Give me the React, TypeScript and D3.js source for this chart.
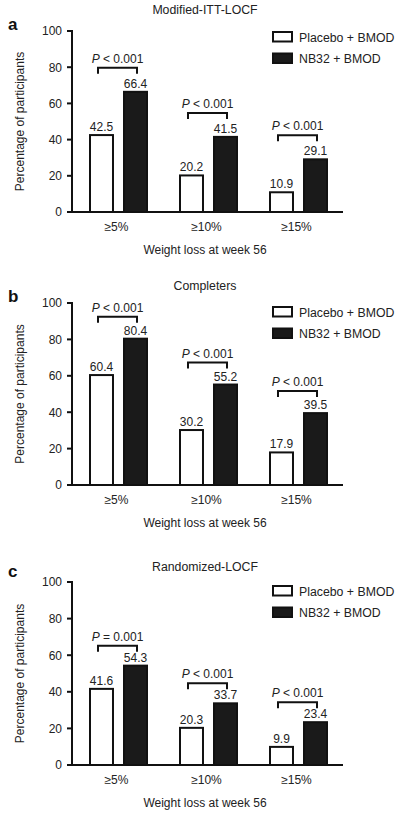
import React from "react";
import * as d3 from "d3";

const categories = ["≥5%", "≥10%", "≥15%"];
const seriesNames = ["Placebo + BMOD", "NB32 + BMOD"];
const panelTitles = ["Modified-ITT-LOCF", "Completers", "Randomized-LOCF"];
const panelLetters = ["a", "b", "c"];
const placeboValues = [
  [42.5, 20.2, 10.9],
  [60.4, 30.2, 17.9],
  [41.6, 20.3, 9.9],
];
const nb32Values = [
  [66.4, 41.5, 29.1],
  [80.4, 55.2, 39.5],
  [54.3, 33.7, 23.4],
];
const pOperators = [
  ["<", "<", "<"],
  ["<", "<", "<"],
  ["=", "<", "<"],
];
const pValue = "0.001";
const yTicks = [0, 20, 40, 60, 80, 100];
const xTitle = "Weight loss at week 56";
const yTitle = "Percentage of participants";

// layout
const panelLayout = [
  { y0: 212, y100: 31, title: 14, letter: 30, legend: 32, bracketOff: 24 },
  { y0: 485, y100: 303, title: 290, letter: 302, legend: 307, bracketOff: 22 },
  { y0: 765, y100: 582, title: 571, letter: 577, legend: 586, bracketOff: 20 },
];
const FONT = "'Liberation Sans', Arial, Helvetica, sans-serif";
const AXIS_X = 72;

function Panel({ idx }: { idx: number }) {
  const L = panelLayout[idx];
  const y = d3.scaleLinear().domain([0, 100]).range([L.y0, L.y100]);
  const x0 = d3
    .scaleBand<string>()
    .domain(categories)
    .range([73.5, 343.5])
    .paddingInner(33 / 90)
    .paddingOuter(16.5 / 90);
  const x1 = d3
    .scaleBand<string>()
    .domain(seriesNames)
    .range([0, x0.bandwidth()])
    .paddingInner(0.324)
    .paddingOuter(0);
  const bw = x1.bandwidth();
  const data = [placeboValues[idx], nb32Values[idx]];
  const yMid = (L.y0 + L.y100) / 2;

  return (
    <g fontFamily={FONT}>
      <text x={205} y={L.title} fontSize={12.3} textAnchor="middle" fill="#222">
        {panelTitles[idx]}
      </text>
      <text x={8} y={L.letter} fontSize={17} fontWeight="bold" fill="#111">
        {panelLetters[idx]}
      </text>
      {/* y axis */}
      <line x1={AXIS_X} x2={AXIS_X} y1={L.y0} y2={L.y100 - 1} stroke="#111" strokeWidth={2} />
      {yTicks.map((t) => (
        <g key={t}>
          <line x1={AXIS_X - 5} x2={AXIS_X} y1={y(t)} y2={y(t)} stroke="#111" strokeWidth={2} />
          <text x={AXIS_X - 10} y={y(t) + 4.3} fontSize={12} textAnchor="end" fill="#222">
            {t}
          </text>
        </g>
      ))}
      <text
        transform={`translate(24,${yMid}) rotate(-90)`}
        fontSize={12}
        textAnchor="middle"
        fill="#222"
      >
        {yTitle}
      </text>
      {/* bars */}
      {categories.map((c, ci) => (
        <g key={c}>
          {seriesNames.map((s, si) => {
            const v = data[si][ci];
            const bx = (x0(c) as number) + (x1(s) as number);
            return (
              <g key={s}>
                <rect
                  x={bx}
                  y={y(v)}
                  width={bw}
                  height={L.y0 - y(v)}
                  fill={si === 0 ? "#fff" : "#1a1a1a"}
                  stroke="#111"
                  strokeWidth={2}
                />
                <text x={bx + bw / 2} y={y(v) - 4} fontSize={12} textAnchor="middle" fill="#222">
                  {v.toFixed(1)}
                </text>
              </g>
            );
          })}
          {(() => {
            const pl = (x0(c) as number) + (x1(seriesNames[0]) as number) + bw / 2 - 3.5;
            const pr = (x0(c) as number) + (x1(seriesNames[1]) as number) + bw / 2 + 1.5;
            const maxV = Math.max(data[0][ci], data[1][ci]);
            const top = y(maxV) - L.bracketOff;
            return (
              <g>
                <path
                  d={`M${pl},${top + 6}V${top}H${pr}V${top + 6}`}
                  fill="none"
                  stroke="#111"
                  strokeWidth={2}
                />
                <text x={(pl + pr) / 2} y={top - 5} fontSize={12} textAnchor="middle" fill="#222">
                  <tspan fontStyle="italic">P</tspan>
                  {` ${pOperators[idx][ci]} ${pValue}`}
                </text>
              </g>
            );
          })()}
          <text
            x={(x0(c) as number) + x0.bandwidth() / 2 - 2}
            y={L.y0 + 19}
            fontSize={12}
            textAnchor="middle"
            fill="#222"
          >
            {c}
          </text>
        </g>
      ))}
      {/* x axis */}
      <line x1={AXIS_X - 5} x2={343} y1={L.y0} y2={L.y0} stroke="#111" strokeWidth={2} />
      <text x={205} y={L.y0 + 42} fontSize={12} textAnchor="middle" fill="#222">
        {xTitle}
      </text>
      {/* legend */}
      {seriesNames.map((s, si) => (
        <g key={s}>
          <rect
            x={273}
            y={L.legend + si * 21.5}
            width={19}
            height={9.5}
            fill={si === 0 ? "#fff" : "#1a1a1a"}
            stroke="#111"
            strokeWidth={2}
          />
          <text x={299} y={L.legend + si * 21.5 + 9.5} fontSize={12.3} fill="#222">
            {s}
          </text>
        </g>
      ))}
    </g>
  );
}

export default function App() {
  return (
    <svg
      width={400}
      height={817}
      viewBox="0 0 400 817"
      style={{ position: "absolute", left: 0, top: 0, background: "#fff" }}
    >
      <rect x={0} y={0} width={400} height={817} fill="#fff" />
      {panelTitles.map((_, i) => (
        <Panel key={i} idx={i} />
      ))}
    </svg>
  );
}
